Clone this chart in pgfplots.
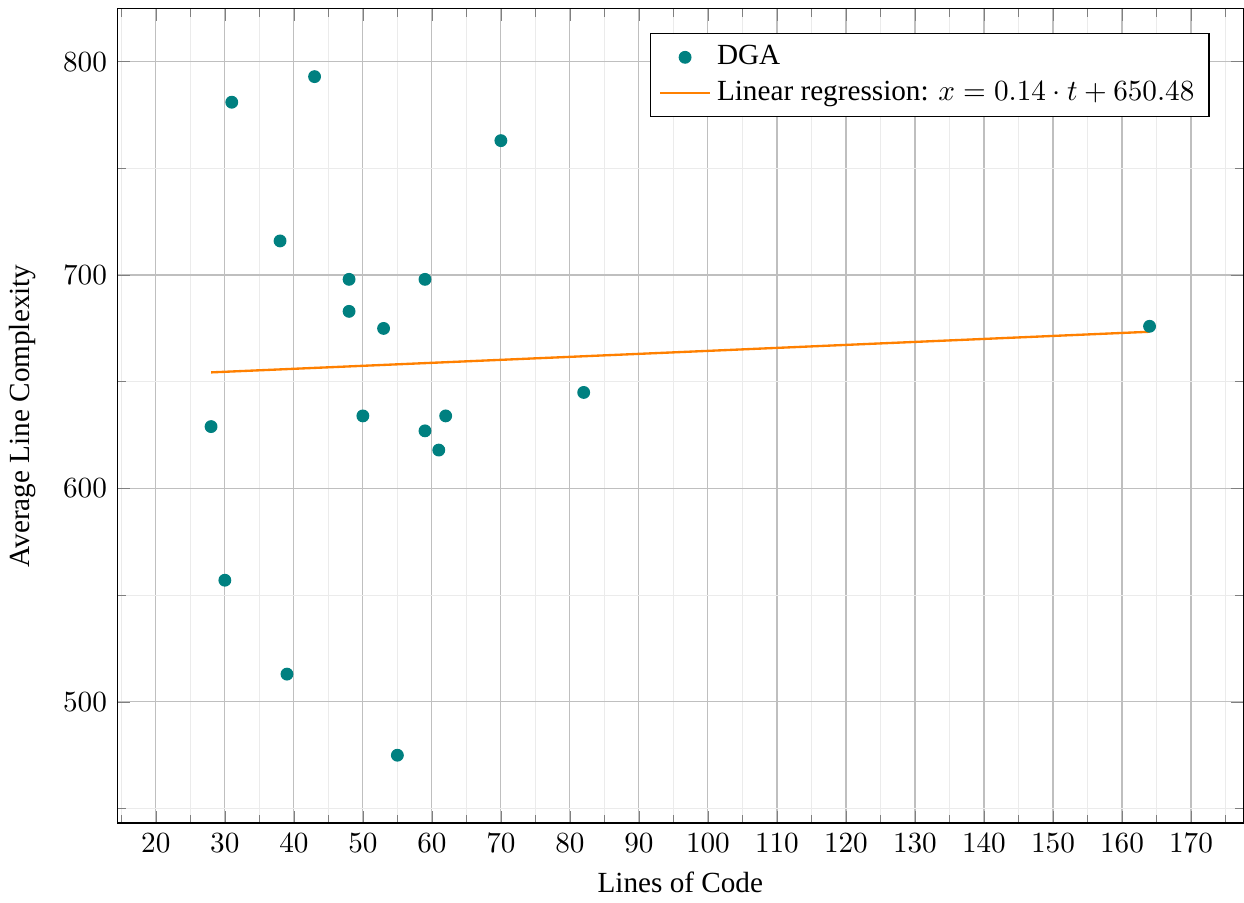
\documentclass[border=0pt]{standalone}
\usepackage{fontspec}
\setmainfont{Liberation Serif}
\usepackage{pgfplots}
\pgfplotsset{compat=1.18}
\begin{document}
\begin{tikzpicture}
\begin{axis}[width=385.6pt, height=278.8pt, scale only axis,
  xmin=14.4, xmax=177.6, ymin=443.2, ymax=824.8,
  xtick distance=10, ytick distance=100,
  minor x tick num=1, minor y tick num=1,
  grid=both,
  major grid style={black!25},
  minor grid style={black!8},
  xlabel={Lines of Code}, ylabel={Average Line Complexity},
  ylabel shift=2.3pt,
  legend style={at={(0.97,0.97)}, anchor=north east, cells={anchor=west}},
  legend cell align=left]
\addplot[only marks, mark=*, mark size=2pt, teal] coordinates {
(28,629) (30,557) (31,781) (38,716) (39,513) (43,793) (48,698) (48,683)
(50,634) (53,675) (55,475) (59,698) (59,627) (61,618) (62,634) (70,763)
(82,645) (164,676)};
\addlegendentry{DGA}
\addplot[orange, thick] coordinates {(28,654.40) (164,673.44)};
\addlegendentry{Linear regression: $x = 0.14 \cdot t + 650.48$}
\end{axis}
\path ([yshift=3pt]current axis.north);
\end{tikzpicture}
\end{document}
